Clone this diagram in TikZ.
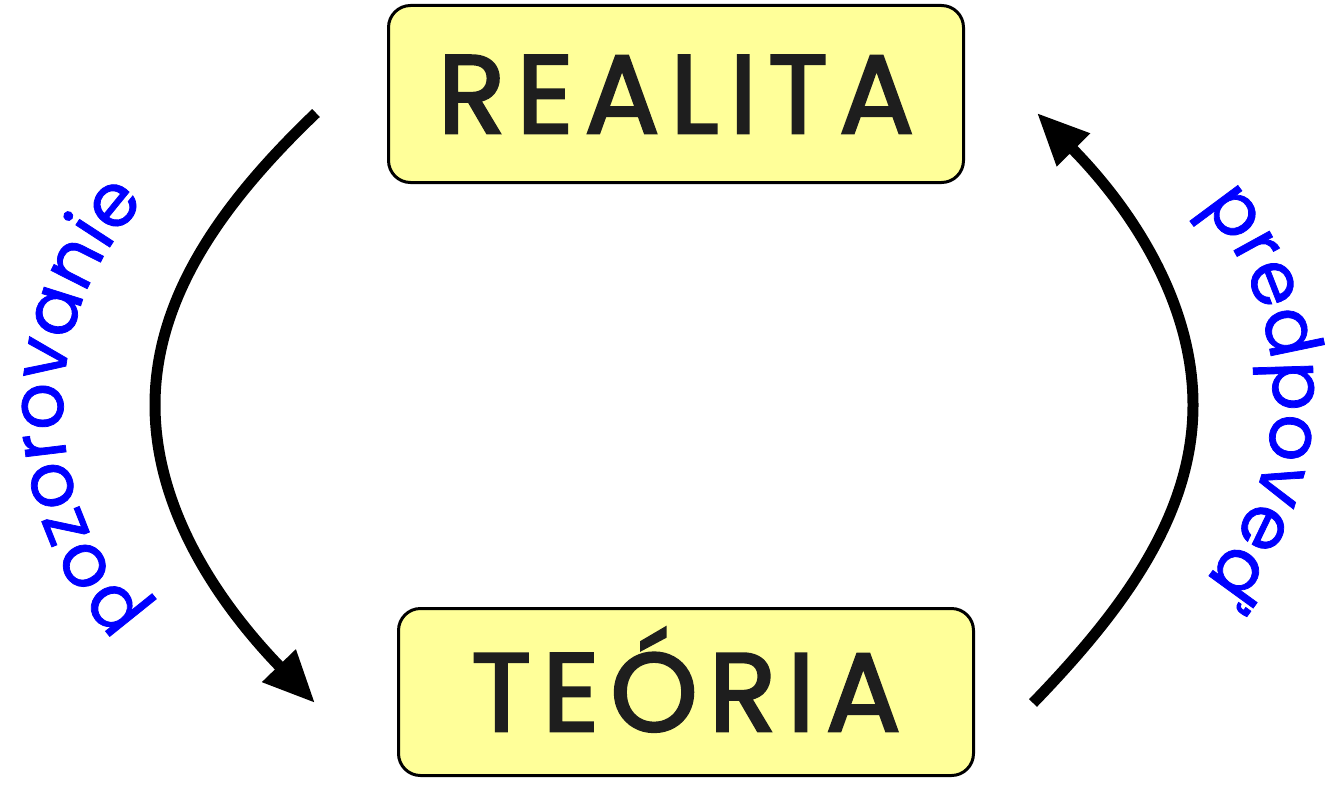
\documentclass[tikz,border=0pt]{standalone}
\usepackage{fontspec}
\setmainfont{Poppins}
\newfontfamily\boxfont{Poppins}[FakeBold=2.5,LetterSpace=10]
\newfontfamily\lblfont{Poppins}[FakeBold=1]
\usetikzlibrary{arrows.meta}
\definecolor{boxfill}{HTML}{FFFF99}
\definecolor{txtgray}{HTML}{1E1E1E}
\newlength\chw
\newlength\totw
\newcommand\lblfmt{\lblfont\fontsize{74}{74}\selectfont}
% builds a list "letter/arc-position-of-its-centre" for a word centred at 0
\newcommand\makearc[3]{%
  \settowidth\totw{\lblfmt #3}%
  \pgfmathsetmacro\lccur{-0.5*\totw}%
  \global\let\lccur\lccur
  \gdef#1{}%
  \foreach \lcch in {#2}{%
    \settowidth\chw{\lblfmt\lcch}%
    \pgfmathsetmacro\lcmid{\lccur+0.5*\chw}%
    \pgfmathsetmacro\lcnext{\lccur+\chw}%
    \global\let\lccur\lcnext
    \ifx#1\empty\xdef#1{\lcch/\lcmid}\else\xdef#1{#1,\lcch/\lcmid}\fi
  }%
}
\begin{document}
\makearc\pzlist{p,o,z,o,r,o,v,a,n,i,e}{pozorovanie}%
\makearc\pdlist{p,r,e,d,p,o,v,e,ď}{predpoveď}%
\begin{tikzpicture}[x=1pt,y=-1pt,
  box/.style={draw=black,line width=3pt,fill=boxfill,rounded corners=22pt,
    minimum width=575pt,inner sep=0pt,text=txtgray,
    font=\boxfont\fontsize{111}{111}\selectfont,text height=78pt,text depth=0pt},
  flow/.style={line width=11pt,-{Triangle[length=52pt,width=44pt]}},
  lblch/.style={anchor=base,inner sep=0pt,text=blue,font=\lblfmt}
]
\useasboundingbox (0,0) rectangle (1340,784);
\node[box,minimum height=177pt] (real) at (676,94) {REALITA};
\node[box,minimum height=167pt] (teor) at (686,692) {TEÓRIA};
\coordinate (l1) at (316,113);
\coordinate (l2) at (155,405);
\coordinate (l3) at (315,703);
\coordinate (r1) at (1033,703);
\coordinate (r2) at (1193,405);
\coordinate (r3) at (1037,113);
\draw[flow] (l1) .. controls (225,200) and (155,295) .. (l2)
  .. controls (155,515) and (225,610) .. (l3);
\draw[flow] (r1) .. controls (1123,610) and (1193,515) .. (r2)
  .. controls (1193,295) and (1123,200) .. (r3);
% pozorovanie: baseline arc, centre (363,408), radius 300, reads upward
\foreach[count=\k] \lc/\s in \pzlist{
  \pgfmathsetmacro\ang{\s/300*57.29578}
  \node[lblch,rotate=90-\ang] (pz\k) at ({363-300*cos(\ang)},{408-300*sin(\ang)}) {\lc};
}
% predpoved: baseline arc, centre (988,395), radius 285, reads downward
\foreach[count=\k] \lc/\s in \pdlist{
  \pgfmathsetmacro\ang{\s/285*57.29578}
  \node[lblch,rotate=-90-\ang] (pd\k) at ({988+285*cos(\ang)},{395+285*sin(\ang)}) {\lc};
}
\end{tikzpicture}
\end{document}
